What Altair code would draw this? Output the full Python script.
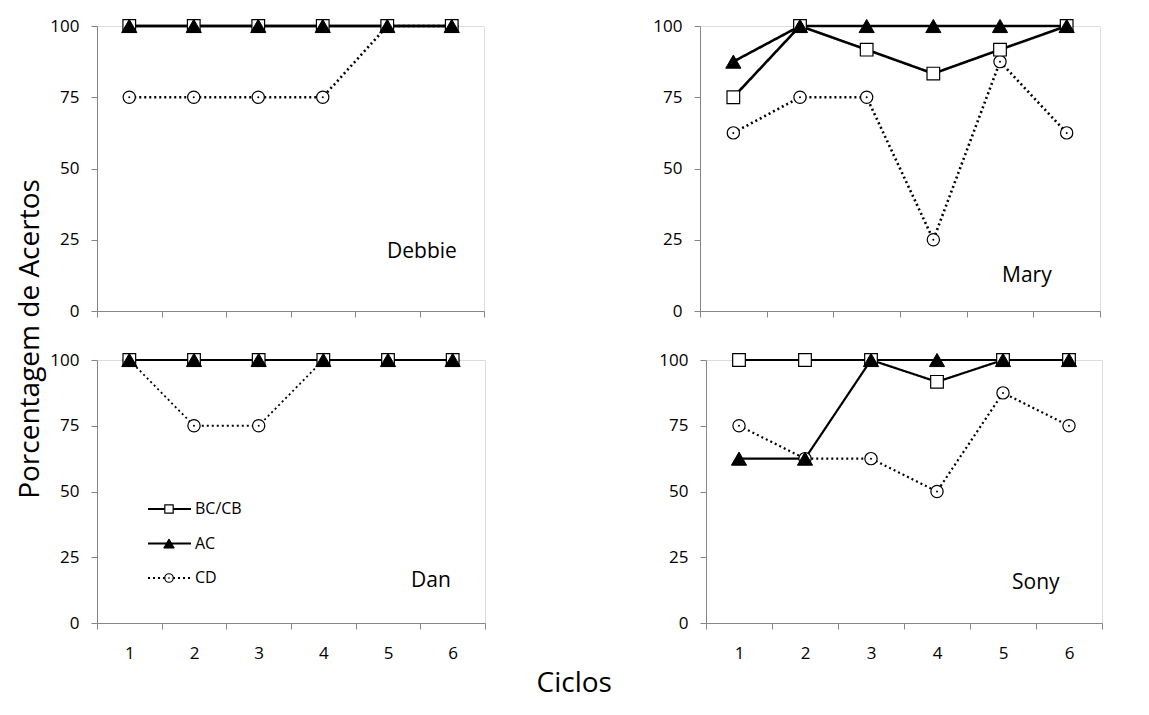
import altair as alt
import pandas as pd

FONT = "Open Sans"
AXIS_COLOR = "#868686"

cycles = [1, 2, 3, 4, 5, 6]
series_names = ["BC/CB", "AC", "CD"]
y_ticks = [0, 25, 50, 75, 100]

debbie_bccb = [100, 100, 100, 100, 100, 100]
debbie_ac = [100, 100, 100, 100, 100, 100]
debbie_cd = [75, 75, 75, 75, 100, 100]

mary_bccb = [75, 100, 91.7, 83.3, 91.7, 100]
mary_ac = [87.5, 100, 100, 100, 100, 100]
mary_cd = [62.5, 75, 75, 25, 87.5, 62.5]

dan_bccb = [100, 100, 100, 100, 100, 100]
dan_ac = [100, 100, 100, 100, 100, 100]
dan_cd = [100, 75, 75, 100, 100, 100]

sony_bccb = [100, 100, 100, 91.7, 100, 100]
sony_ac = [62.5, 62.5, 100, 100, 100, 100]
sony_cd = [75, 62.5, 62.5, 50, 87.5, 75]

DASH = alt.Scale(domain=series_names, range=[[1, 0], [1, 0], [2, 3]])


def panel_df(bccb, ac, cd):
    rows = []
    for s, vals in zip(series_names, [bccb, ac, cd]):
        for c, v in zip(cycles, vals):
            rows.append({"ciclo": c, "serie": s, "valor": v})
    return pd.DataFrame(rows)


def marker_layers(base, sq=160, tri=230, circ=150, dot=4):
    circles = base.transform_filter(alt.datum.serie == "CD").mark_point(
        shape="circle", size=circ, filled=True, fill="white", stroke="black",
        strokeWidth=1.2, opacity=1)
    dots = base.transform_filter(alt.datum.serie == "CD").mark_point(
        shape="circle", size=dot, filled=True, color="black", opacity=1)
    squares = base.transform_filter(alt.datum.serie == "BC/CB").mark_point(
        shape="square", size=sq, filled=True, fill="white", stroke="black",
        strokeWidth=1.2, opacity=1)
    triangles = base.transform_filter(alt.datum.serie == "AC").mark_point(
        shape="triangle-up", size=tri, filled=True, fill="black", stroke="black",
        strokeWidth=1, opacity=1)
    return [circles, dots, squares, triangles]


def make_panel(df, name, width, height, show_labels, name_x, name_y,
               y_extent, line_w=2.2, legend=False):
    x_axis = alt.Axis(
        labels=show_labels, labelAngle=0, tickBand="extent",
        tickSize=6, grid=False, title=None, domainColor=AXIS_COLOR,
        tickColor=AXIS_COLOR, labelPadding=16, labelFontSize=17,
        labelFont=FONT, labelColor="black",
    )
    y_axis = alt.Axis(
        values=y_ticks, tickSize=6, grid=False, title=None,
        domainColor=AXIS_COLOR, tickColor=AXIS_COLOR, labelPadding=12,
        labelFontSize=17, labelFont=FONT, labelColor="black",
        minExtent=y_extent, maxExtent=y_extent,
    )
    x = alt.X("ciclo:O", scale=alt.Scale(type="band", domain=cycles, paddingInner=0,
                                         paddingOuter=0), axis=x_axis)
    y = alt.Y("valor:Q", scale=alt.Scale(domain=[0, 100], nice=False), axis=y_axis)
    base = alt.Chart(df).encode(x=x, y=y)

    lines = base.mark_line(strokeWidth=line_w, color="black").encode(
        detail="serie:N",
        strokeDash=alt.StrokeDash("serie:N", scale=DASH, legend=None),
    )
    label = alt.Chart(pd.DataFrame({"nome": [name]})).mark_text(
        align="left", baseline="alphabetic", fontSize=21, font=FONT, color="black"
    ).encode(text="nome:N", x=alt.value(name_x), y=alt.value(name_y))

    main = alt.layer(lines, *marker_layers(base), label)
    if not legend:
        return main.properties(width=width, height=height)

    # legend drawn from the series names, rows placed by a point scale
    leg_df = pd.DataFrame({"serie": series_names})
    leg_y = alt.Y("serie:N", scale=alt.Scale(type="point", domain=series_names,
                                             range=[149, 218], padding=0),
                  axis=None)
    leg_base = alt.Chart(leg_df).encode(y=leg_y)
    leg_lines = leg_base.mark_rule(color="black", strokeWidth=2.2).encode(
        x=alt.value(51), x2=alt.value(94),
        strokeDash=alt.StrokeDash("serie:N", scale=DASH, legend=None),
    )
    leg_marks = marker_layers(leg_base.encode(x=alt.value(72)), sq=70, tri=110, circ=72, dot=3)
    leg_text = leg_base.mark_text(
        align="left", baseline="middle", fontSize=16, font=FONT, color="black"
    ).encode(x=alt.value(98), text="serie:N")
    leg = alt.layer(leg_lines, *leg_marks, leg_text)
    return alt.layer(main, leg).resolve_scale(y="independent").properties(width=width, height=height)


tl = make_panel(panel_df(debbie_bccb, debbie_ac, debbie_cd), "Debbie", 387, 285, False, 290, 232, 51, 2.6)
tr = make_panel(panel_df(mary_bccb, mary_ac, mary_cd), "Mary", 400, 285, False, 302, 256, 45, 2.6)
bl = make_panel(panel_df(dan_bccb, dan_ac, dan_cd), "Dan", 388, 263, True, 314, 227, 45, 1.8,
                legend=True)
br = make_panel(panel_df(sony_bccb, sony_ac, sony_cd), "Sony", 396, 263, True, 306, 229, 45, 2.2)

row1 = alt.hconcat(tl, tr, spacing=167)
row2 = alt.hconcat(bl, br, spacing=172)
grid = alt.vconcat(row1, row2, spacing=30).properties(
    title=alt.TitleParams("Ciclos", orient="bottom", anchor="middle", fontSize=28,
                          font=FONT, fontWeight="normal", color="black", offset=8)
)
chart = alt.hconcat(grid).properties(
    title=alt.TitleParams("Porcentagem de Acertos", orient="left", anchor="middle",
                          fontSize=28, font=FONT, fontWeight="normal", color="black",
                          offset=1, dx=18),
    padding={"left": 8, "top": 8, "right": 5, "bottom": 0},
).configure_view(stroke=None).configure(background="white")

chart.save("out.html", embed_options={"renderer": "svg", "actions": False})
